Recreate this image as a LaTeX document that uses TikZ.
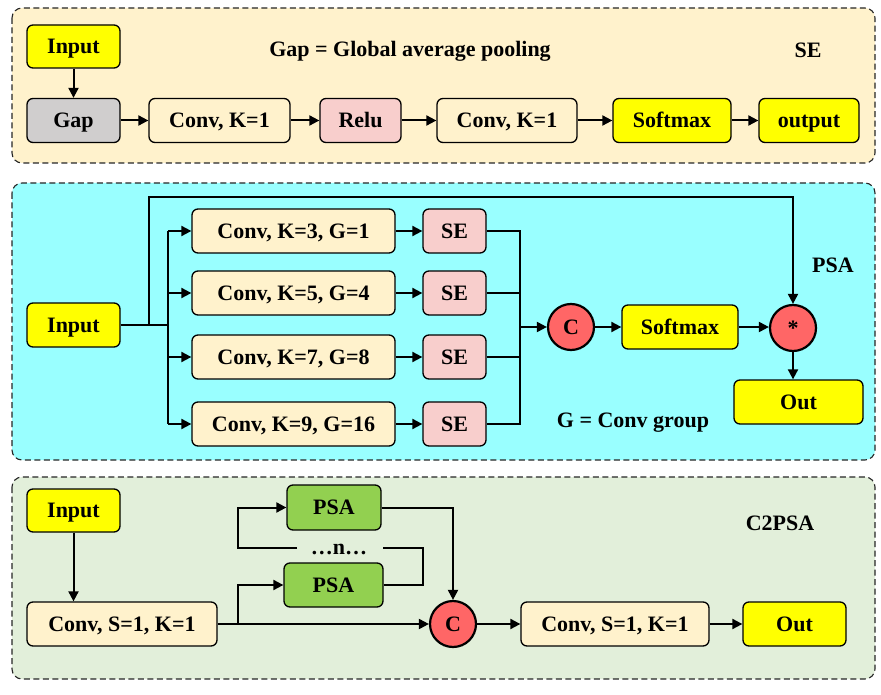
\documentclass[tikz,border=0pt]{standalone}
\usepackage{fontspec}
\setmainfont{Liberation Serif}
\usetikzlibrary{arrows.meta}
\definecolor{cream}{HTML}{FFF2CC}
\definecolor{yel}{HTML}{FFFF00}
\definecolor{greybox}{HTML}{D0CECE}
\definecolor{pinkbox}{HTML}{F8CECC}
\definecolor{cyanpanel}{HTML}{99FFFF}
\definecolor{redcirc}{HTML}{FF6666}
\definecolor{greenbox}{HTML}{92D050}
\definecolor{greenpanel}{HTML}{E2EFDA}
\tikzset{
  panel/.style={draw=black!85, line width=1.1pt, rounded corners=10pt, dash pattern=on 6pt off 3.5pt},
  blk/.style={draw=black, line width=1.3pt, rounded corners=6pt, inner sep=0pt,
    font=\fontsize{22}{24}\selectfont\bfseries, minimum height=44pt,
    text height=17pt, text depth=2.4pt},
  op/.style={draw=black, line width=2.2pt, circle, inner sep=0pt, minimum size=46pt,
    fill=redcirc, font=\fontsize{22}{24}\selectfont\bfseries,
    text height=17pt, text depth=2.4pt},
  lbl/.style={font=\fontsize{22}{24}\selectfont\bfseries, inner sep=0pt,
    text height=17pt, text depth=2.4pt},
  wire/.style={line width=2pt},
  arr/.style={line width=2pt, -{Triangle[length=10pt,width=10pt]}},
}
\begin{document}
\begin{tikzpicture}[x=1pt,y=-1pt]
\useasboundingbox (0,0) rectangle (881,695);

% ---------- SE block ----------
\draw[panel, fill=cream] (12,8) rectangle (875,163);
\node[blk, fill=yel, minimum width=93pt, minimum height=43pt] (in1) at (73.5,46.5) {Input};
\node[blk, fill=greybox, minimum width=93pt] (gap) at (73.5,120.5) {Gap};
\node[blk, fill=cream, minimum width=141pt] (c1) at (219.5,120.5) {Conv, K=1};
\node[blk, fill=pinkbox, minimum width=81pt] (relu) at (360.5,120.5) {Relu};
\node[blk, fill=cream, minimum width=140pt] (c2) at (507,120.5) {Conv, K=1};
\node[blk, fill=yel, minimum width=118pt] (soft1) at (672,120.5) {Softmax};
\node[blk, fill=yel, minimum width=100pt] (out1) at (809,120.5) {output};
\node[lbl] (gapnote) at (410,49) {Gap = Global average pooling};
\node[lbl] (setitle) at (808,50) {SE};
\draw[arr] (in1) -- (gap);
\draw[arr] (gap) -- (c1);
\draw[arr] (c1) -- (relu);
\draw[arr] (relu) -- (c2);
\draw[arr] (c2) -- (soft1);
\draw[arr] (soft1) -- (out1);

% ---------- PSA block ----------
\draw[panel, fill=cyanpanel] (12,183) rectangle (875,460);
\node[blk, fill=yel, minimum width=93pt] (in2) at (73.5,325) {Input};
\node[blk, fill=cream, minimum width=203pt] (k3) at (293.5,231) {Conv, K=3, G=1};
\node[blk, fill=cream, minimum width=203pt] (k5) at (293.5,293) {Conv, K=5, G=4};
\node[blk, fill=cream, minimum width=203pt] (k7) at (293.5,357) {Conv, K=7, G=8};
\node[blk, fill=cream, minimum width=203pt] (k9) at (293.5,424) {Conv, K=9, G=16};
\node[blk, fill=pinkbox, minimum width=63pt] (se3) at (454.5,231) {SE};
\node[blk, fill=pinkbox, minimum width=63pt] (se5) at (454.5,293) {SE};
\node[blk, fill=pinkbox, minimum width=63pt] (se7) at (454.5,357) {SE};
\node[blk, fill=pinkbox, minimum width=63pt] (se9) at (454.5,424) {SE};
\node[op] (cat2) at (571,327) {C};
\node[blk, fill=yel, minimum width=116pt] (soft2) at (680,327) {Softmax};
\node[op] (mul) at (793,328) {*};
\node[blk, fill=yel, minimum width=129pt] (out2) at (798.5,402) {Out};
\node[lbl] (psatitle) at (833,265) {PSA};
\node[lbl] (gnote) at (633,420) {G = Conv group};
\coordinate (split) at (168,325);
\coordinate (skip) at (149,325);
\coordinate (merge) at (520,327);
\draw[wire] (in2.east) -- (split);
\draw[wire] (168,231) -- (168,424);
\draw[arr] (168,231) -- (k3.west);
\draw[arr] (168,293) -- (k5.west);
\draw[arr] (168,357) -- (k7.west);
\draw[arr] (168,424) -- (k9.west);
\draw[arr] (k3) -- (se3);
\draw[arr] (k5) -- (se5);
\draw[arr] (k7) -- (se7);
\draw[arr] (k9) -- (se9);
\draw[wire] (se3.east) -- (520,231) -- (520,424) -- (se9.east);
\draw[wire] (se5.east) -- (520,293);
\draw[wire] (se7.east) -- (520,357);
\draw[arr] (merge) -- (cat2);
\draw[arr] (cat2) -- (soft2);
\draw[arr] (soft2.east) -- (soft2.east -| mul.west);
\draw[arr] (skip) -- (149,197) -| (mul.north);
\draw[arr] (mul.south) -- (mul |- out2.north);

% ---------- C2PSA block ----------
\draw[panel, fill=greenpanel] (12,477) rectangle (875,679);
\node[blk, fill=yel, minimum width=93pt, minimum height=43pt] (in3) at (73.5,510.5) {Input};
\node[blk, fill=cream, minimum width=190pt] (cv3) at (122,624) {Conv, S=1, K=1};
\node[blk, fill=greenbox, minimum width=94pt, minimum height=45pt] (psaT) at (334,507.5) {PSA};
\node[blk, fill=greenbox, minimum width=99pt] (psaB) at (333.5,585) {PSA};
\node[lbl] (dots) at (339,547) {\ldots n\ldots};
\node[op] (cat3) at (453,624) {C};
\node[blk, fill=cream, minimum width=188pt] (cv4) at (615,624) {Conv, S=1, K=1};
\node[blk, fill=yel, minimum width=103pt] (out3) at (794.5,624) {Out};
\node[lbl] (c2title) at (780,523) {C2PSA};
\coordinate (fork) at (238,624);
\draw[arr] (in3) -- (in3 |- cv3.north);
\draw[arr] (cv3.east) -- (cat3);
\draw[arr] (fork) -- (238,585) -- (psaB.west);
\draw[wire] (psaB.east) -- (423,585) -- (423,548) -- (383,548);
\draw[arr] (297,548) -- (238,548) -- (238,507.5) -- (psaT.west);
\draw[arr] (psaT.east) -| (cat3.north);
\draw[arr] (cat3) -- (cv4);
\draw[arr] (cv4) -- (out3);
\end{tikzpicture}
\end{document}
